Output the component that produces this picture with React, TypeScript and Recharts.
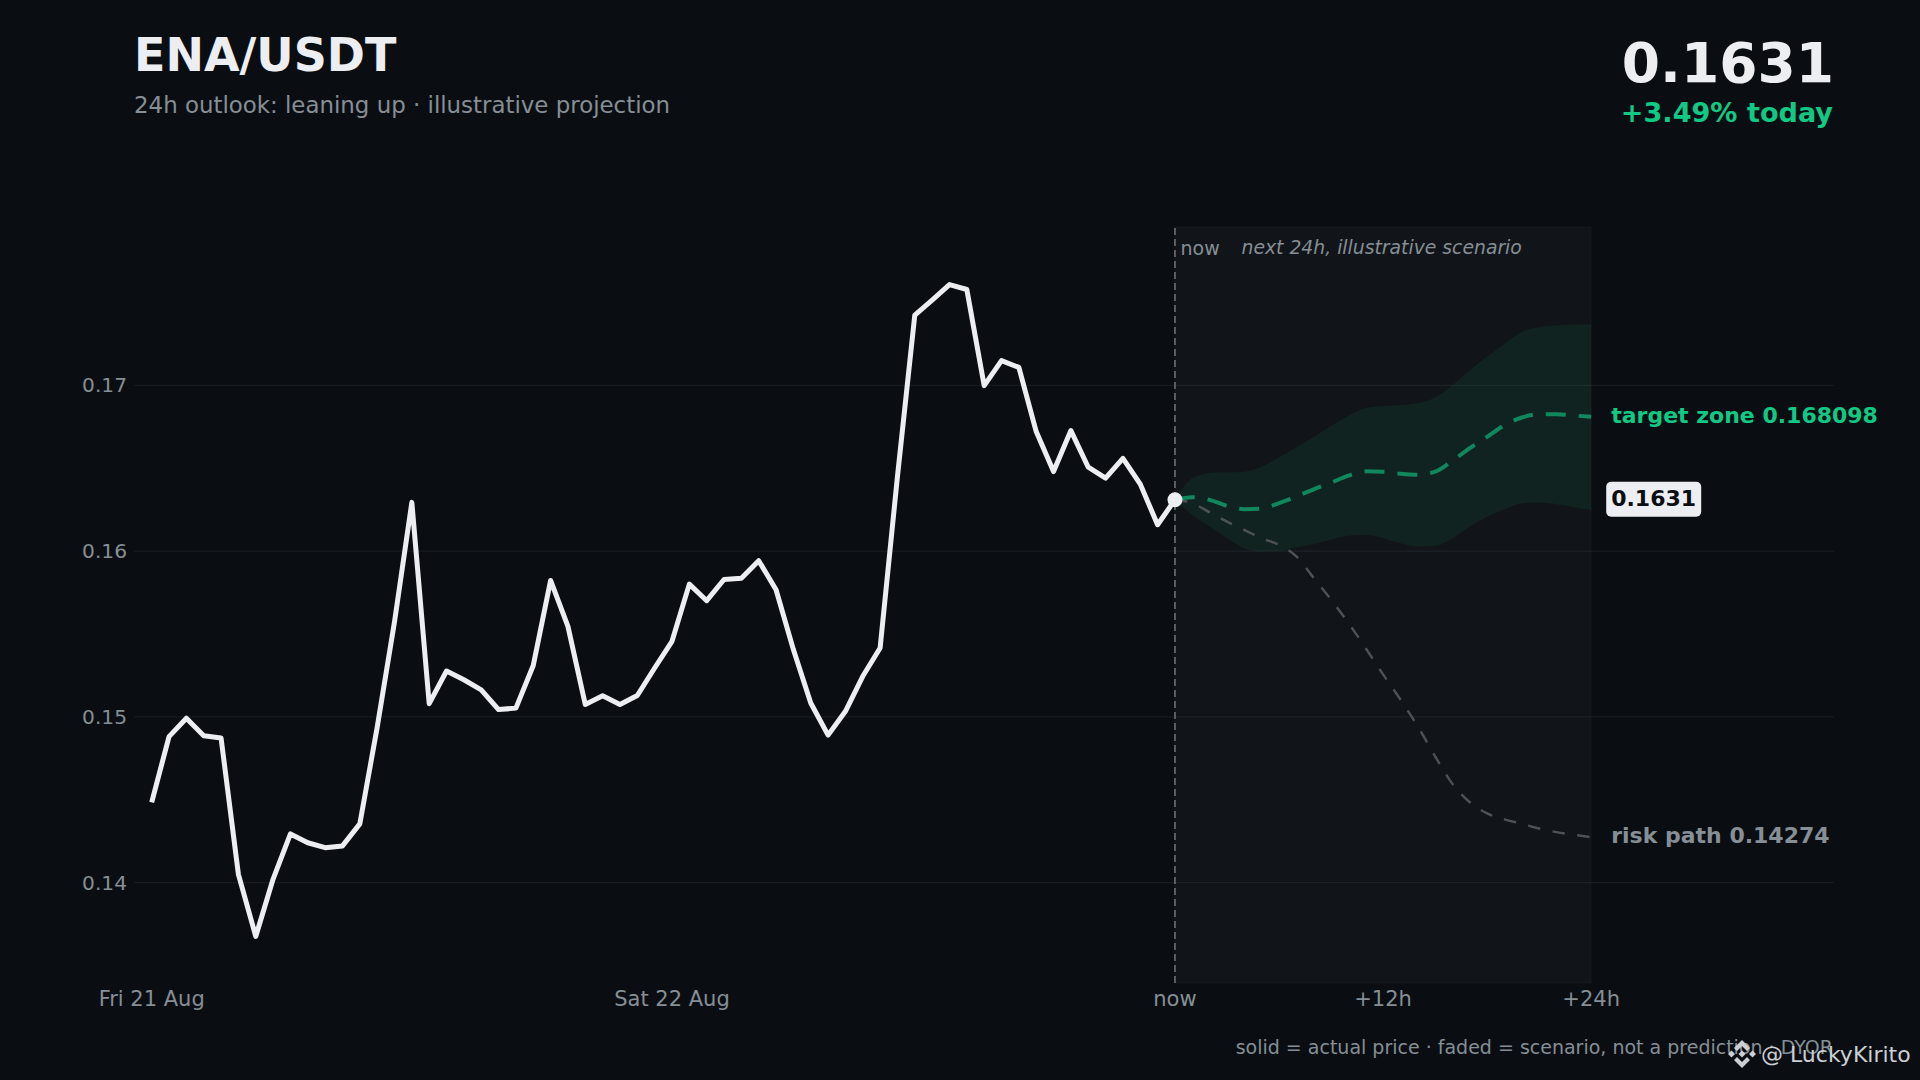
import {
  Area,
  CartesianGrid,
  ComposedChart,
  Line,
  ReferenceArea,
  ReferenceDot,
  ReferenceLine,
  XAxis,
  YAxis,
} from "recharts";

const FONT = "'DejaVu Sans', sans-serif";
const BG = "#0a0e12";
const WHITE = "#eceef2";
const GREEN = "#10c985";
const GREY = "#868e96";

// hourly-ish closes up to "now"
const actualPrice = [
  0.14485, 0.14881, 0.14992, 0.14886, 0.14873, 0.1405, 0.13676, 0.14022, 0.14294, 0.14241,
  0.14211, 0.14222, 0.14355, 0.14936, 0.15573, 0.16294, 0.1508, 0.15277, 0.15224, 0.15163,
  0.15044, 0.15053, 0.1531, 0.15823, 0.15546, 0.15075, 0.15127, 0.15075, 0.15129, 0.15295,
  0.15456, 0.15801, 0.15701, 0.15829, 0.15837, 0.15942, 0.15767, 0.15406, 0.15084, 0.1489,
  0.15034, 0.15245, 0.15416, 0.1645, 0.17424, 0.17514, 0.17608, 0.17578, 0.16998, 0.17149,
  0.17108, 0.16721, 0.1648, 0.16727, 0.16506, 0.1644, 0.1656, 0.16404, 0.16159, 0.1631,
];

// scenario paths, now .. +24h
const targetPath = [
  0.1631, 0.16325, 0.16309, 0.16273, 0.16253, 0.16257, 0.16289, 0.16329, 0.16373, 0.16413,
  0.16455, 0.16481, 0.16479, 0.16467, 0.16461, 0.16479, 0.16545, 0.16621, 0.16689, 0.1676,
  0.16806, 0.16826, 0.16826, 0.16818, 0.168098,
];
const riskPath = [
  0.1631, 0.16289, 0.16234, 0.16178, 0.16128, 0.16078, 0.16038, 0.15968, 0.15838, 0.15707,
  0.15567, 0.15414, 0.15257, 0.15105, 0.14943, 0.14762, 0.14596, 0.14485, 0.14418, 0.14382,
  0.14356, 0.14327, 0.14305, 0.14289, 0.14274,
];
const bandUpper = [
  0.1631, 0.16439, 0.16469, 0.16475, 0.16479, 0.16509, 0.16565, 0.16625, 0.16689, 0.16754,
  0.16816, 0.16864, 0.16876, 0.1688, 0.16892, 0.16926, 0.17, 0.1709, 0.17174, 0.1725,
  0.17321, 0.17351, 0.17361, 0.17365, 0.17369,
];
const bandLower = [
  0.1631, 0.16218, 0.16148, 0.16078, 0.16018, 0.15998, 0.16, 0.16024, 0.16042, 0.16068,
  0.16092, 0.16098, 0.16078, 0.16048, 0.16028, 0.16032, 0.16078, 0.16148, 0.16208, 0.16253,
  0.16289, 0.16295, 0.16283, 0.16265, 0.16248,
];

const xTicks = [0, 30, 59, 71, 83];
const xTickLabels = ["Fri 21 Aug", "Sat 22 Aug", "now", "+12h", "+24h"];
const yTicks = [0.14, 0.15, 0.16, 0.17];

const NOW = 59;
const END = 83;

const chartData = Array.from({ length: END + 1 }, (_, i) => {
  const p = i - NOW;
  return {
    i,
    actual: i <= NOW ? actualPrice[i] : undefined,
    target: p >= 0 ? targetPath[p] : undefined,
    risk: p >= 0 ? riskPath[p] : undefined,
    band: p >= 0 ? [bandLower[p], bandUpper[p]] : undefined,
  };
});

function sideLabel(text: string, color: string) {
  return (props: any) => (
    <text x={props.cx + 20} y={props.cy + 6} fill={color} fontFamily={FONT} fontSize={22} fontWeight={700}>
      {text}
    </text>
  );
}

function priceBadge(props: any) {
  return (
    <g>
      <rect x={props.cx + 15} y={props.cy - 18} width={95} height={35} rx={5} fill={WHITE} />
      <text x={props.cx + 20} y={props.cy + 6} fill={BG} fontFamily={FONT} fontSize={22} fontWeight={700}>
        0.1631
      </text>
    </g>
  );
}

function BinanceMark() {
  return (
    <svg width={28} height={28} viewBox="0 0 28 28" style={{ position: "absolute", left: 1728, top: 1040 }}>
      <g fill="#cbcfd4">
        <path d="M14 0 L22 8 L19 11 L14 6 L9 11 L6 8 Z" />
        <path d="M14 28 L22 20 L19 17 L14 22 L9 17 L6 20 Z" />
        <path d="M3.5 10.5 L7 14 L3.5 17.5 L0 14 Z" />
        <path d="M24.5 10.5 L28 14 L24.5 17.5 L21 14 Z" />
        <path d="M14 10.5 L17.5 14 L14 17.5 L10.5 14 Z" />
      </g>
    </svg>
  );
}

function Txt({ style, children }: { style: any; children: any }) {
  return (
    <div style={{ position: "absolute", fontFamily: FONT, whiteSpace: "nowrap", lineHeight: 1, ...style }}>
      {children}
    </div>
  );
}

export default function App() {
  return (
    <div style={{ position: "absolute", left: 0, top: 0, width: 1920, height: 1080, background: BG, overflow: "hidden" }}>
      <Txt style={{ left: 134, top: 31.5, fontSize: 46, fontWeight: 700, color: WHITE }}>ENA/USDT</Txt>
      <Txt style={{ left: 134, top: 94, fontSize: 22.9, color: GREY }}>
        24h outlook: leaning up · illustrative projection
      </Txt>
      <Txt style={{ right: 86, top: 35.5, fontSize: 55, fontWeight: 700, color: WHITE }}>0.1631</Txt>
      <Txt style={{ right: 87, top: 98.5, fontSize: 27.1, fontWeight: 700, color: GREEN }}>+3.49% today</Txt>

      <ComposedChart
        width={1920}
        height={1080}
        data={chartData}
        margin={{ top: 227, right: 86, bottom: 0, left: 0 }}
        style={{ position: "absolute", left: 0, top: 0 }}
      >
        <CartesianGrid vertical={false} stroke="#1a1f24" strokeWidth={1} syncWithTicks />
        <ReferenceArea
          x1={NOW}
          x2={END}
          fill="#ffffff"
          fillOpacity={0.03}
          stroke="#ffffff"
          strokeOpacity={0.04}
          ifOverflow="visible"
        />
        <XAxis
          dataKey="i"
          type="number"
          domain={[-1.02, 97]}
          ticks={xTicks}
          interval={0}
          height={97}
          axisLine={false}
          tickLine={false}
          tickSize={0}
          tickMargin={8}
          tick={{ fill: GREY, fontSize: 21, fontFamily: FONT }}
          tickFormatter={(v: number) => xTickLabels[xTicks.indexOf(v)]}
          allowDataOverflow
        />
        <YAxis
          domain={[0.13395, 0.17955]}
          ticks={yTicks}
          width={134}
          axisLine={false}
          tickLine={false}
          tickSize={0}
          tickMargin={7}
          tick={{ fill: GREY, fontSize: 20.2, fontFamily: FONT }}
          tickFormatter={(v: number) => v.toFixed(2)}
          allowDataOverflow
        />
        <Area
          dataKey="band"
          type="monotone"
          stroke="none"
          fill={GREEN}
          fillOpacity={0.08}
          dot={false}
          activeDot={false}
          isAnimationActive={false}
        />
        <Line
          dataKey="risk"
          type="monotone"
          stroke="#4d5257"
          strokeWidth={2.4}
          strokeDasharray="12.5 12.5"
          dot={false}
          activeDot={false}
          isAnimationActive={false}
        />
        <Line
          dataKey="target"
          type="monotone"
          stroke={GREEN}
          strokeOpacity={0.6}
          strokeWidth={4}
          strokeDasharray="20 13"
          dot={false}
          activeDot={false}
          isAnimationActive={false}
        />
        <ReferenceLine x={NOW} stroke="#6b7077" strokeWidth={1.6} strokeDasharray="7 4" />
        <Line
          dataKey="actual"
          type="linear"
          stroke={WHITE}
          strokeWidth={5}
          strokeLinejoin="round"
          dot={false}
          activeDot={false}
          isAnimationActive={false}
        />
        <ReferenceDot x={NOW} y={actualPrice[NOW]} r={7.5} fill={WHITE} stroke="none" />
        <ReferenceDot x={END} y={targetPath[END - NOW]} r={0} shape={sideLabel("target zone 0.168098", GREEN)} />
        <ReferenceDot x={END} y={actualPrice[NOW]} r={0} shape={priceBadge} />
        <ReferenceDot x={END} y={riskPath[END - NOW]} r={0} shape={sideLabel("risk path 0.14274", GREY)} />
      </ComposedChart>

      <Txt style={{ left: 1180.5, top: 238.5, fontSize: 19, color: GREY }}>now</Txt>
      <Txt style={{ left: 1241.5, top: 238.5, fontSize: 18.8, fontStyle: "italic", color: GREY }}>
        next 24h, illustrative scenario
      </Txt>
      <Txt style={{ right: 87, top: 1037.5, fontSize: 19, color: GREY }}>
        solid = actual price · faded = scenario, not a prediction · DYOR
      </Txt>
      <BinanceMark />
      <Txt style={{ left: 1761, top: 1043.5, fontSize: 22, color: "#cbcfd4" }}>@ LuckyKirito</Txt>
    </div>
  );
}
